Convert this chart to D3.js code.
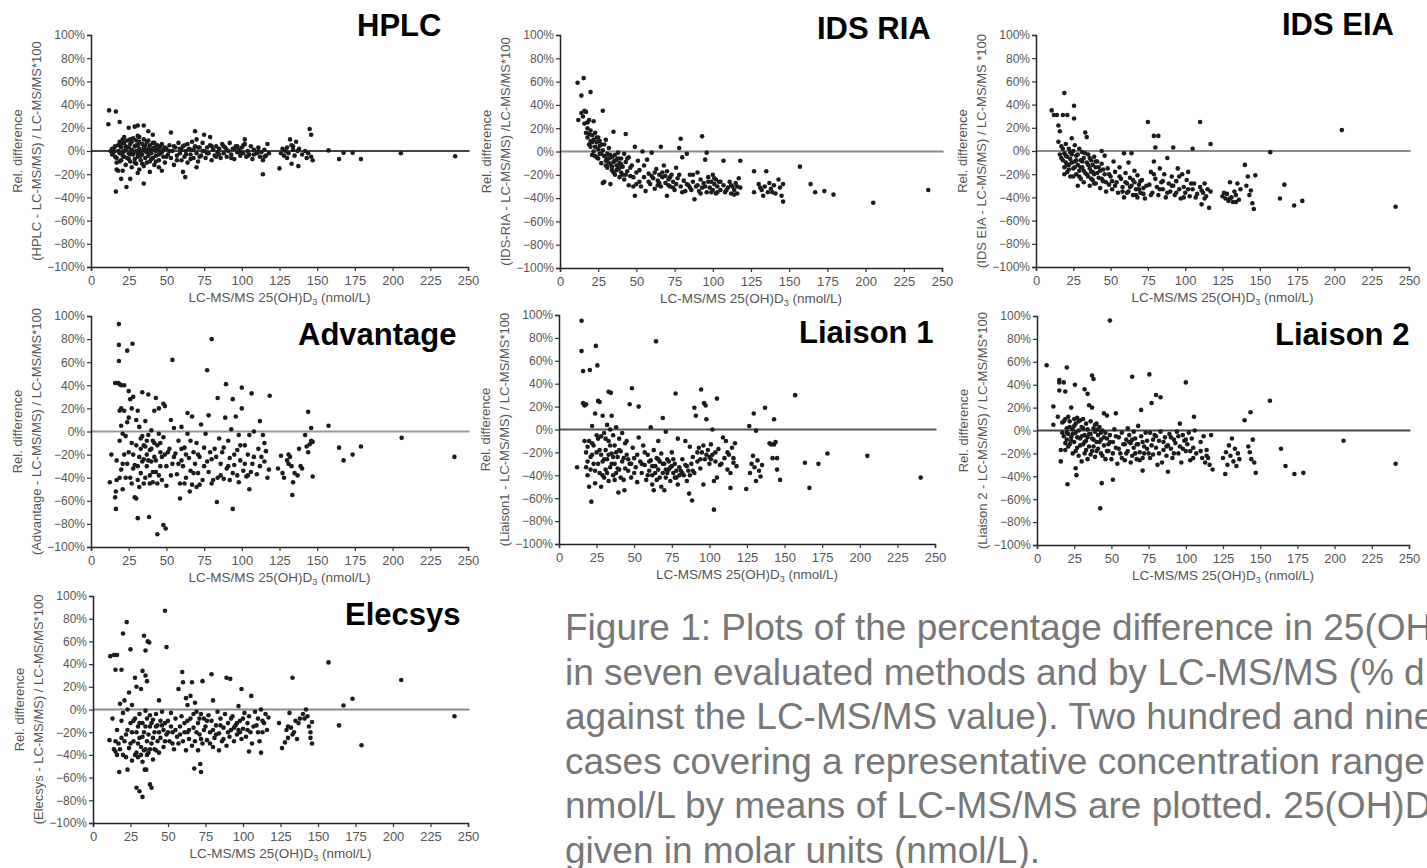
<!DOCTYPE html>
<html>
<head>
<meta charset="utf-8">
<script src="https://cdn.jsdelivr.net/npm/d3@7"></script>
<style>
  html, body { margin: 0; padding: 0; background: #fff; }
  svg { display: block; }
  text { font-family: "Liberation Sans", Arial, Helvetica, sans-serif; }
</style>
</head>
<body>
<svg id="chart" width="1427" height="868"></svg>
<script>
// ---------- DATA ----------
const xTicks = [0, 25, 50, 75, 100, 125, 150, 175, 200, 225, 250];
const yTicks = [-100, -80, -60, -40, -20, 0, 20, 40, 60, 80, 100];
const methodNames = ["HPLC", "IDS RIA", "IDS EIA", "Advantage", "Liaison 1", "Liaison 2", "Elecsys"];
const yLabelLines = [
  "(HPLC - LC-MS/MS) / LC-MS/MS*100",
  "(IDS-RIA - LC-MS/MS) /LC-MS/MS*100",
  "(IDS EIA - LC-MS/MS) / LC-MS/MS *100",
  "(Advantage - LC-MS/MS) / LC-MS/MS*100",
  "(Liaison1 - LC-MS/MS) / LC-MS/MS*100",
  "(Liaison 2 - LC-MS/MS) / LC-MS/MS*100",
  "(Elecsys - LC-MS/MS) / LC-MS/MS*100"
];
const captionLines = [
  "Figure 1: Plots of the percentage difference in 25(OH",
  "in seven evaluated methods and by LC-MS/MS (% d",
  "against the LC-MS/MS value). Two hundred and nine",
  "cases covering a representative concentration range",
  "nmol/L by means of LC-MS/MS are plotted. 25(OH)D",
  "given in molar units (nmol/L)."
];

const hplcData = [[11.5,23],[12,35],[16.5,34],[19,25],[16.5,-35],[23.5,-31],[35,-28],[26,-24],[20,-24],[18,-17],[17,-16],[21,-17],[31,-19],[39,-18],[47,-17],[45,-14],[62.5,-22.5],[61,-18],[70,-14],[114,-20],[125,-15],[145,19],[146,14],[137.5,-13],[133,-11],[157.5,0.5],[164.5,-7],[167.5,-1.5],[173.5,-1.5],[179,-7],[205.5,-2],[241.5,-4.5],[53,16],[69,17],[75,14],[79,12],[25,20],[29,21],[31,22],[35,22],[38,17],[41,14],[31,13],[22,12],[26,10],[14,2],
[13,0],[14,-3],[15,2],[16,-5],[17,-10],[18,5],[19,-2],[19,8],[20,-8],[20,3],[21,10],[21,-4],[22,0],[22,7],[23,-12],[23,4],[24,-6],[24,9],[25,-2],[25,3],[26,-9],[26,6],[27,1],[27,-14],[28,11],[28,-3],[29,-7],[29,4],[30,0],[30,9],[30,-11],[31,-5],[31,5],[32,2],[32,-16],[32,12],[33,-8],[33,0],[34,6],[34,-3],[35,-13],[35,3],[35,10],[36,-6],[36,0],[37,8],[37,-10],[38,2],[38,-4],[39,5],[39,-9],[40,1],[40,-2],[41,7],[41,-6],[42,-12],[42,3],[43,0],[43,-4],[44,5],[45,-8],[45,2],[46,-2],[47,6],[48,-5],[48,1],[49,-10],[50,2],[51,-3],[52,5],[53,-6],[54,0],[55,-12],[56,3],[57,-4],[58,7],[59,-2],[60,1],[60,-8],[61,4],[62,-5],[63,0],[64,6],[64,-10],[65,2],[66,-3],[67,8],[68,-6],[68,1],[69,4],[70,-2],[70,10],[71,-9],[72,3],[73,-4],[74,7],[75,0],[76,-6],[77,3],[78,-2],[79,5],[80,-8],[81,1],[82,-4],[83,4],[84,-1],[85,2],[86,-6],[87,6],[88,-2],[89,3],[90,-5],[91,0],[92,7],[93,-3],[94,2],[95,-7],[96,4],[97,-1],[98,1],[99,-4],[100,3],[101,-2],[102,10],[102,6],[103,-5],[104,0],[105,-3],[106,4],[107,-7],[108,1],[110,-2],[111,3],[112,-5],[113,-1],[114,-8],[115,1],[116,-4],[117,6],[118,-2],[126,-2],[127,2],[128,-4],[129,0],[130,3],[131,-2],[132,10],[133,5],[134,1],[135,-4],[136,8],[138,2],[140,-3],[142,0],[143,-6],[144,-2],[146,-5],[147,-8],
[15,-1],[16,4],[17,-6],[18,0],[19,-9],[20,6],[21,-1],[22,-5],[23,1],[24,3],[25,-7],[26,-3],[27,8],[28,-1],[29,-10],[30,5],[31,-2],[32,8],[33,-4],[34,-11],[35,1],[36,5],[37,-1],[38,9],[39,0],[40,-7],[41,2],[42,7],[43,-9],[44,1],[45,-3],[46,4],[47,-1],[49,3],[50,-5],[52,0],[55,4],[57,-8],[59,2],[62,5],[63,-3],[66,-7],[67,1],[71,3],[72,-5],[74,0],[77,-2],[80,4],[83,-5],[85,-3],[88,4],[90,1],[93,-6],[95,2],[97,4],[99,-1],[101,5],[104,-4],[108,-3],[111,0],[115,-5],[130,-6],[134,4],[137,0]];

const idsRiaData = [[11.5,59],[15.5,63],[14,48],[20,51],[12,27],[14,33],[15,30],[16,35],[16,24],[17,34],[17,16],[18,20],[18,12],[19,27],[19,6],[20,18],[20,9],[21,14],[21,-3],[22,26],[22,10],[23,4],[23,16],[24,8],[24,-5],[25,12],[25,2],[26,-2],[26,9],[27,6],[27,-10],[28,35],[28,-27],[28,1],[29,-4],[29,-26],[30,10],[30,-8],[31,-2],[31,-14],[32,-6],[32,3],[33,-11],[33,-28],[34,-5],[34,-16],[35,17],[35,-9],[36,-3],[36,-20],[37,-12],[37,-7],[38,-15],[38,-1],[39,-10],[39,-22],[40,-6],[40,-18],[41,-13],[42,-2],[42,-24],[43,15],[43,-9],[44,-17],[45,-5],[45,-29],[46,-21],[47,-12],[48,-30],[49,4],[49,-38],[50,-18],[51,-8],[52,-26],[53,-30],[54,0],[55,-22],[56,-34],[57,-7],[58,-19],[59,-28],[60,-1],[61,-23],[62,-32],[63,-15],[64,-25],[65,-20],[66,4],[66,-30],[67,-22],[68,-12],[69,-27],[70,-38],[70,-17],[71,-24],[72,-30],[73,-20],[74,-26],[75,-33],[76,-14],[77,-23],[78,3],[79,11],[79,-30],[80,-5],[81,-25],[82,-34],[83,-2],[84,-29],[85,-20],[86,-33],[87,-26],[88,-41],[89,-30],[90,-18],[91,-34],[92,-24],[93,13],[93,-31],[94,-27],[95,-7],[96,-1],[96,-35],[97,-22],[98,-31],[99,-26],[100,-33],[100,-20],[101,-28],[102,-36],[102,-24],[103,-30],[104,-26],[105,-33],[107,-8],[107,-29],[108,-35],[110,-31],[111,-26],[112,-36],[113,-30],[114,-33],[115,-27],[116,-36],[117,-23],[118,-8],[118,-31],[127,-17],[127,-35],[130,-28],[132,-33],[133,-38],[134,-30],[135,-17],[136,-35],[137,-27],[138,-32],[140,-29],[141,-36],[143,-24],[144,-31],[145,-38],[146,-43],[146,-28],[157,-13],[164,-28],[167,-35],[173,-34],[179,-37],[205,-44],[241,-33],
[18,25],[19,15],[20,4],[21,8],[22,0],[23,-4],[24,12],[25,-6],[26,5],[27,-2],[29,6],[30,-12],[31,-6],[32,-10],[33,-3],[34,-13],[35,-18],[36,-8],[37,-16],[38,-6],[39,-14],[40,-11],[41,-20],[43,-20],[44,-6],[46,-14],[48,-22],[50,-28],[52,-16],[55,-12],[58,-26],[60,-21],[62,-18],[64,-29],[65,-27],[67,-18],[69,-21],[71,-29],[72,-22],[74,-31],[76,-28],[78,-20],[80,-35],[83,-28],[85,-31],[87,-20],[90,-29],[92,-36],[95,-30],[97,-26],[99,-35],[101,-23],[103,-35],[105,-26],[109,-33],[112,-29],[114,-37],[116,-30],[131,-31],[139,-35]];

const idsEiaData = [[10.5,35],[12,31],[14,31],[15,22],[16,17],[18,31],[19,50],[21,31],[25.5,39],[25.5,28],[15,8],[16,-3],[17,4],[18,-8],[19,-14],[19,-2],[20,6],[20,-10],[21,-5],[21,-18],[22,2],[22,-12],[23,-7],[23,-22],[24,11],[24,-3],[25,-15],[25,0],[26,-9],[26,5],[27,-20],[27,-4],[28,-12],[28,-30],[29,2],[29,-17],[30,-8],[30,-24],[31,-1],[31,-14],[32,-27],[32,-6],[33,16],[33,-19],[34,12],[34,-10],[35,-3],[35,-22],[36,-15],[36,-30],[37,-8],[37,-18],[38,-25],[38,-12],[39,-5],[39,-20],[40,-28],[40,-14],[41,-9],[42,-23],[43,-32],[43,-17],[44,0],[44,-11],[45,-26],[46,-4],[46,-20],[47,-35],[48,-15],[49,-29],[50,-22],[51,-33],[52,-9],[53,-18],[54,-27],[55,-36],[56,-14],[57,-24],[58,-31],[59,-2],[59,-40],[60,-19],[61,-28],[62,-35],[62,-10],[63,-23],[64,-30],[64,-2],[65,-38],[66,-17],[66,-27],[67,-33],[68,-21],[68,-40],[69,-29],[70,-36],[71,-25],[72,-32],[73,-41],[75,25],[76,-29],[77,-18],[78,-36],[79,13],[79,-9],[80,3],[80,-24],[81,-31],[82,13],[82,-38],[83,-15],[84,-27],[85,-33],[86,-20],[87,-40],[88,-6],[89,-28],[90,-35],[91,-22],[92,3],[92,-30],[93,-38],[94,-26],[95,-15],[96,-33],[97,-41],[98,-20],[99,-31],[100,-36],[101,-25],[102,-18],[103,-39],[105,2],[105,-33],[106,-28],[108,-37],[110,25],[110,-31],[111,-46],[112,-36],[113,-28],[114,-39],[115,-33],[116,-49],[117,6],[117,-35],[125,-39],[127,-41],[128,-37],[129,-43],[130,-27],[131,-40],[132,-44],[133,-35],[134,-38],[135,-28],[136,-42],[137,-33],[140,-12],[141,-30],[142,-22],[143,-38],[144,-34],[145,-45],[146,-50],[147,-21],[157,-1],[163.5,-41],[166.5,-29],[173,-47],[178.5,-43],[205,18],[241,-48],
[17,-6],[18,2],[19,-20],[20,-4],[21,-12],[22,-16],[23,-1],[24,-10],[25,-22],[26,-14],[27,-8],[28,-3],[29,-22],[30,-14],[31,-9],[32,-17],[33,-2],[34,-20],[35,-12],[36,-6],[37,-24],[38,-18],[39,-28],[40,-9],[41,-19],[42,-14],[44,-24],[45,-16],[47,-27],[49,-20],[51,-26],[53,-30],[56,-22],[58,-35],[60,-27],[61,-36],[63,-31],[65,-25],[67,-38],[69,-33],[70,-26],[72,-37],[74,-30],[77,-38],[79,-20],[83,-33],[85,-26],[88,-36],[91,-30],[94,-36],[96,-22],[99,-40],[102,-33],[104,-28],[107,-40],[111,-34],[113,-41],[126,-36],[130,-41],[134,-44]];

const advantageData = [[18.5,93],[18.5,75],[24,70],[27.5,76],[18.5,61],[54,62],[77,53],[80,80],[89.5,41],[100,38],[106.5,33],[118.5,31],[84,29],[94,28],[16.5,-67],[16.5,-52],[16,-57],[31,-75],[38.5,-74],[44,-89],[48,-81],[49.5,-84],[59,-58],[65.5,-52],[83.5,-61],[94,-67],[105,-50],[133.5,-55],[147,-39],[144,17],[146,3],[157.5,5],[164.5,-14],[167.5,-25],[173.5,-20],[179,-13],[206,-5.5],[241,-22],[13.5,-20],[12.5,-44],
[16,42],[18,42],[19,41],[20,40],[22,40],[17,-42],[19,-40],[20,-33],[21,-50],[22,-20],[19,18],[20,5],[21,-2],[22,18],[23,-4],[24,-28],[25,35],[25,12],[26,-40],[27,20],[27,-10],[28,30],[28,-32],[29,-57],[29,-29],[30,-58],[30,-12],[31,18],[31,-42],[32,4],[32,-22],[33,-15],[33,-36],[34,34],[34,-4],[35,-24],[35,-45],[36,9],[36,-13],[37,-30],[37,-20],[38,32],[38,-3],[39,-38],[39,-16],[40,-26],[40,1],[41,-8],[41,-44],[42,18],[42,-22],[43,29],[43,-35],[44,-12],[44,-45],[45,20],[45,-2],[46,-30],[46,-18],[47,-42],[48,24],[48,-5],[49,-20],[49,22],[50,-47],[52,-15],[53,10],[54,-28],[55,3],[56,-19],[57,-37],[58,-8],[59,-45],[60,4],[60,-25],[61,-30],[62,-14],[63,-40],[64,16],[64,-2],[65,-23],[66,-34],[67,13],[67,-46],[68,-18],[69,-28],[70,-48],[70,-10],[71,-36],[72,-22],[73,6],[74,-42],[75,-14],[76,-2],[77,-26],[78,14],[78,-35],[80,-24],[81,-42],[82,-15],[84,-40],[85,-6],[86,-28],[87,-18],[88,-41],[89,12],[90,-32],[91,-8],[92,-23],[93,2],[94,-36],[95,-29],[96,13],[97,-16],[98,-44],[98,-3],[99,-25],[100,20],[101,-34],[102,-12],[103,-39],[104,-20],[105,-3],[106,-35],[107,-28],[108,0],[110,-37],[111,-15],[112,9],[113,-22],[114,-3],[115,-10],[116,-17],[117,-40],[118,-33],[124,-32],[126,-21],[128,-40],[130,-25],[131,-20],[132,-22],[133,-30],[134,-44],[135,-36],[137,-38],[138,-15],[140,-32],[142,-3],[143,-13],[145,-11],[146,-8],[147,-9],
[17,-25],[19,-8],[20,20],[21,-28],[23,-40],[24,8],[25,-18],[26,28],[27,-45],[28,-20],[30,10],[31,-30],[32,-48],[33,-6],[34,-26],[35,-12],[36,-40],[37,-8],[38,-25],[39,-45],[40,-15],[41,-35],[42,-10],[43,-25],[45,-38],[46,-10],[47,-22],[50,-30],[51,-18],[53,-38],[55,-22],[58,-28],[60,-15],[62,-45],[63,-20],[66,-8],[68,-36],[71,-20],[72,-46],[75,-30],[79,-18],[80,-45],[83,-22],[86,-38],[88,-14],[91,-30],[92,-42],[95,-20],[97,-38],[99,-12],[102,-28],[104,-38],[108,-22],[112,-30],[115,-26],[127,-36],[131,-28],[139,-30],[144,-18]];

const liaison1Data = [[15,95],[15,68.5],[16,51],[20.5,52],[24.5,73],[25.5,56],[64.5,77],[48.5,36],[33,33],[34.5,32],[77.5,31.5],[94.5,35],[96.5,23],[97.5,21],[105,27],[157,30],[137,19],[129.5,14],[143,9],[126.5,3],[88.5,-62],[86.5,-56],[103,-70],[21.5,-63],[39.5,-55],[43.5,-53],[124.5,-52],[114,-51],[147,-44],[166.5,-51],[163.5,-29],[172.5,-30],[178.5,-21],[205,-23],[240.5,-42],[12,-33],
[16,23],[17,21],[18,22],[17,-10],[18,-33],[19,-40],[19,-15],[20,-50],[21,-24],[22,3],[22,-12],[23,-30],[24,14],[24,-47],[25,-20],[26,25],[26,-8],[27,24],[27,-38],[28,-22],[28,-50],[29,12],[29,-28],[30,-3],[30,-42],[31,-18],[31,-35],[32,4],[32,-26],[33,-10],[33,-45],[34,0],[34,-33],[35,12],[35,-21],[36,-5],[36,-40],[37,-14],[37,-30],[38,2],[38,-38],[39,-24],[40,-8],[40,-35],[41,-19],[42,-3],[42,-28],[43,-44],[44,-12],[45,-22],[46,-36],[47,22],[47,-30],[48,-42],[49,-16],[50,-25],[51,-33],[52,-46],[53,-7],[53,20],[54,-28],[55,-38],[56,-14],[57,-31],[58,-44],[59,-22],[60,-36],[61,2],[61,-27],[62,-48],[62,-40],[63,-53],[63,-18],[64,-32],[65,-25],[65,-44],[66,-10],[66,-35],[67,-28],[68,-50],[68,-21],[69,10],[69,-38],[70,-30],[70,-53],[71,-2],[71,-42],[72,-26],[73,-35],[74,-45],[75,-20],[75,-32],[76,-38],[77,-30],[78,-42],[79,-48],[79,-8],[80,-33],[81,-36],[82,-26],[83,-40],[84,-10],[84,-31],[85,-45],[86,-36],[87,-15],[88,-30],[89,-24],[90,19],[90,-38],[91,12],[92,-28],[93,-16],[94,-34],[95,-20],[96,-48],[96,-14],[97,-26],[98,9],[99,-18],[100,-30],[100,-24],[101,-13],[102,-22],[102,0],[103,-45],[104,-28],[105,-42],[106,-17],[107,-31],[109,-7],[110,-25],[111,-10],[112,-35],[113,-22],[114,-38],[115,-16],[116,-29],[117,-12],[118,-32],[127,-38],[128,-30],[129,-23],[130,-33],[131,-45],[131,-1],[132,-27],[133,-36],[134,-41],[135,-31],[140,-12],[141,-13],[142,-25],[143,-13],[144,-11],[145,-35],[145,-25],
[18,-20],[19,-28],[20,-10],[21,-35],[22,-22],[23,-14],[24,-36],[25,-5],[26,-30],[27,-18],[28,-6],[29,-40],[30,-26],[31,-8],[32,-38],[33,-22],[34,-14],[35,-30],[36,-24],[37,-44],[38,-20],[39,-34],[40,-18],[41,-42],[43,-25],[44,-34],[45,-10],[46,-26],[48,-30],[50,-38],[52,-22],[55,-30],[57,-20],[59,-40],[60,-28],[62,-32],[64,-38],[66,-26],[67,-42],[69,-30],[71,-35],[72,-38],[73,-28],[74,-33],[76,-26],[77,-42],[78,-36],[80,-40],[82,-38],[85,-32],[87,-40],[89,-36],[92,-20],[94,-26],[98,-22],[101,-26],[104,-20],[108,-30],[112,-20],[116,-25]];

const liaison2Data = [[49,96],[6.5,57],[20,55],[25.5,40],[37,48],[38,45],[32,36],[34,32],[15,44],[15,42],[15,35],[18,42],[19,34],[11,21],[11,5],[64,47],[75.5,49],[77,24],[80,31],[83,29],[100,42],[70,18],[53,15],[45,15],[47,13],[156.5,26],[143.5,16],[139.5,9],[105.5,12],[42.5,-68],[20.5,-47],[43.5,-46],[51,-43],[26.5,-39],[26,-33],[71,-35],[88,-36],[126.5,-38],[147,-37],[164,-16],[167,-31],[173,-38],[179,-37],[206,-9],[241,-29],[16,-27],
[14,12],[16,-17],[17,7],[18,-5],[19,-17],[19,10],[20,-8],[20,2],[21,-3],[21,12],[22,-12],[22,8],[23,20],[23,-6],[24,1],[24,-20],[25,10],[25,-10],[26,-2],[26,6],[27,-15],[27,11],[28,0],[28,-22],[29,-7],[29,9],[30,3],[30,-27],[31,-12],[31,10],[32,-4],[32,-20],[33,6],[33,-9],[34,-25],[34,1],[35,22],[35,-14],[36,-3],[36,8],[37,-18],[37,20],[38,-8],[38,2],[39,-23],[39,-1],[40,-10],[40,6],[41,-16],[41,-4],[42,3],[43,-20],[43,-8],[44,0],[45,-13],[46,-25],[46,-2],[47,-7],[48,-18],[48,-12],[49,-4],[50,-25],[51,-10],[52,1],[53,-15],[54,-29],[55,-6],[56,-20],[57,-2],[58,-12],[59,-26],[60,-8],[61,2],[61,-18],[62,-4],[63,-28],[63,-11],[64,-22],[65,-1],[65,-15],[66,-7],[67,-25],[68,-12],[68,4],[69,-19],[70,-5],[71,-24],[72,-14],[73,-2],[74,-9],[75,-20],[76,-2],[77,-13],[78,-21],[79,-4],[80,-15],[81,-30],[82,-9],[83,-1],[84,-28],[85,-17],[86,-6],[87,-22],[88,-13],[89,-3],[90,-16],[91,-24],[92,-8],[93,-11],[94,-1],[95,-20],[96,6],[96,-14],[97,-28],[98,-4],[99,-9],[100,-18],[101,-12],[102,-2],[103,-26],[104,-7],[105,-15],[106,0],[107,-20],[110,-10],[111,-24],[112,-5],[113,-28],[114,-17],[115,-24],[116,-30],[117,-4],[118,-34],[125,-24],[127,-19],[128,-30],[129,-13],[130,-22],[131,-7],[132,-27],[133,-16],[134,-31],[135,-20],[136,-25],[142,-14],[143,-19],[144,-25],[145,-8],[146,-28],
[17,-2],[18,8],[19,-11],[20,-2],[21,-14],[22,3],[23,-9],[24,-3],[25,4],[26,-18],[27,-6],[28,8],[29,-13],[30,-5],[31,2],[32,-10],[33,-17],[34,-6],[35,-3],[36,-21],[37,-7],[38,-14],[39,5],[40,-18],[41,1],[42,-10],[43,-2],[44,-22],[45,-6],[47,-18],[49,-10],[51,-20],[53,-5],[55,-16],[57,-24],[59,-12],[60,-20],[62,-10],[64,-8],[66,-20],[67,-12],[69,-26],[71,-10],[72,-20],[74,-16],[76,-24],[78,-8],[80,-5],[82,-20],[85,-10],[87,-14],[90,-6],[92,-20],[95,-5],[98,-16],[100,-8],[103,-18],[105,-24],[110,-18],[114,-22]];

const elecsysData = [[48,87],[22.5,77],[20,67],[25,53],[34,65],[36.5,60],[37.5,59],[35,52],[49,55],[11.5,47],[14,48],[16,48],[15,35],[19,35],[33,34],[35,30],[36,25],[59.5,33],[79,31],[89,28],[91.5,27],[73,25],[99,18],[105.5,12],[133,28],[157,41.5],[205.5,26],[241,-6],[167,3.5],[173,9.5],[164,-14],[179,-31.5],[17.5,-55],[23,-53],[29,-69],[31,-72],[33,-77],[34.5,-53],[35.5,-53],[38,-66],[39,-69],[67.5,-52],[71.5,-48],[72,-55],[104,-37],[112,-38],[146,-30],[11,-27],
[13,-8],[14,-35],[15,-37],[16,-18],[17,-30],[18,5],[19,-25],[20,-3],[20,-40],[21,8],[22,-22],[23,0],[24,15],[24,-34],[25,-12],[26,4],[26,-45],[27,-28],[28,28],[28,-8],[29,-38],[29,20],[30,-15],[30,-42],[31,-4],[31,-25],[32,18],[32,-33],[33,-12],[33,-46],[34,-20],[35,-1],[35,-35],[36,-28],[36,-8],[37,-38],[38,-15],[38,-5],[39,-30],[40,-9],[40,-44],[41,-20],[42,-36],[42,-4],[43,-14],[44,-38],[44,8],[45,-25],[45,-10],[46,-2],[47,-33],[47,-18],[48,-12],[49,-22],[50,-10],[51,-28],[52,-3],[53,-20],[54,-35],[55,-8],[56,-24],[57,18],[57,-30],[58,-15],[59,-6],[60,24],[60,-28],[61,-12],[62,10],[62,-36],[63,-20],[63,4],[64,-26],[65,12],[65,-8],[66,-32],[66,24],[67,-16],[68,6],[68,-28],[69,-2],[70,-36],[70,-12],[71,-22],[72,-4],[73,-30],[74,-8],[75,-15],[76,-27],[77,-5],[78,-20],[79,-10],[80,-33],[80,8],[81,-25],[82,-14],[83,-2],[84,-36],[84,-21],[85,-8],[86,-28],[87,-16],[88,-4],[89,-32],[90,-12],[91,-24],[92,-18],[93,-6],[94,-28],[95,-14],[96,-22],[97,3],[97,-18],[98,-10],[99,-26],[100,-17],[101,-3],[102,-24],[103,-12],[104,-6],[105,-20],[106,-30],[108,-2],[109,-14],[110,-8],[111,-28],[112,0],[113,-20],[114,-12],[115,-4],[116,-18],[117,-7],[124,-12],[126,-34],[128,-29],[129,-18],[130,-25],[131,-3],[132,-16],[133,-22],[134,-20],[135,-10],[136,-26],[137,-12],[140,-4],[141,-8],[142,0],[143,-6],[144,-15],[145,-20],[145,-25],[146,-11],
[15,-28],[16,-40],[18,-35],[19,-10],[21,-28],[22,-42],[23,-18],[25,-30],[26,-20],[27,-10],[28,-40],[29,-20],[30,-30],[31,-12],[32,-40],[33,-24],[34,-36],[35,-15],[36,-40],[37,-22],[38,-35],[39,-12],[40,-25],[41,-35],[42,-15],[43,-28],[44,-20],[46,-14],[48,-28],[50,-20],[52,-15],[53,-30],[55,-18],[58,-22],[61,-20],[63,-10],[64,-18],[67,-4],[69,-20],[71,-8],[72,-26],[74,-18],[76,-10],[78,-30],[80,-18],[82,-22],[85,-14],[87,-26],[90,-20],[92,-8],[94,-16],[96,-12],[98,-20],[100,-8],[103,-18],[107,-15],[110,-20],[113,-10],[130,-15],[138,-8]];

const seriesData = [hplcData, idsRiaData, idsEiaData, advantageData, liaison1Data, liaison2Data, elecsysData];

// ---------- LAYOUT (positions / styles only) ----------
const layout = [
  {x0: 91,   x1: 468,  y0: 35,  y1: 267, tx: 357,  ty: 36,  zero: "#444"},
  {x0: 560,  x1: 942,  y0: 35,  y1: 268, tx: 817,  ty: 39,  zero: "#8a8a8a"},
  {x0: 1036, x1: 1409, y0: 35,  y1: 267, tx: 1282, ty: 35,  zero: "#8a8a8a"},
  {x0: 91,   x1: 468,  y0: 316, y1: 547, tx: 298,  ty: 345, zero: "#9a9a9a"},
  {x0: 559,  x1: 935,  y0: 315, y1: 544, tx: 799,  ty: 343, zero: "#555"},
  {x0: 1037, x1: 1409, y0: 316, y1: 545, tx: 1275, ty: 345, zero: "#444"},
  {x0: 93,   x1: 468,  y0: 596, y1: 823, tx: 345,  ty: 625, zero: "#8a8a8a"}
];

const svg = d3.select("#chart");
const fmtPct = d => (d < 0 ? "\u2212" + Math.abs(d) : d) + "%";

seriesData.forEach((data, i) => {
  const L = layout[i];
  const x = d3.scaleLinear().domain([0, 250]).range([L.x0, L.x1]);
  const y = d3.scaleLinear().domain([-100, 100]).range([L.y1, L.y0]);
  const g = svg.append("g");

  // zero reference line
  g.append("line")
    .attr("x1", x(0)).attr("x2", x(251))
    .attr("y1", y(0)).attr("y2", y(0))
    .attr("stroke", L.zero).attr("stroke-width", 1.8);

  // y axis
  const yAxis = g.append("g").attr("transform", `translate(${x(0)},0)`)
    .call(d3.axisLeft(y).tickValues(yTicks).tickFormat(fmtPct).tickSize(4).tickPadding(2));
  yAxis.select(".domain").attr("stroke", "#222").attr("stroke-width", 1.5);
  yAxis.selectAll(".tick line").attr("stroke", "#333").attr("stroke-width", 1.2);
  yAxis.selectAll(".tick text").attr("fill", "#555").style("font-size", "12px")
    .style("font-family", "'Liberation Sans', Arial, sans-serif");

  // x axis
  const xAxis = g.append("g").attr("transform", `translate(0,${y(-100)})`)
    .call(d3.axisBottom(x).tickValues(xTicks).tickSize(4).tickPadding(5));
  xAxis.select(".domain").attr("stroke", "#222").attr("stroke-width", 1.5);
  xAxis.selectAll(".tick line").attr("stroke", "#333").attr("stroke-width", 1.2);
  xAxis.selectAll(".tick text").attr("fill", "#555").style("font-size", "13px")
    .style("font-family", "'Liberation Sans', Arial, sans-serif");

  // x axis label with subscript
  const xl = g.append("text")
    .attr("x", (L.x0 + L.x1) / 2).attr("y", y(-100) + 35)
    .attr("text-anchor", "middle").attr("fill", "#555").style("font-size", "13.5px");
  xl.append("tspan").text("LC-MS/MS 25(OH)D");
  xl.append("tspan").attr("dy", 3).style("font-size", "9px").text("3");
  xl.append("tspan").attr("dy", -3).text(" (nmol/L)");

  // y axis label (two lines, rotated)
  const cy = (L.y0 + L.y1) / 2;
  g.append("text")
    .attr("transform", `translate(${L.x0 - 69},${cy}) rotate(-90)`)
    .attr("text-anchor", "middle").attr("fill", "#555").style("font-size", "13px")
    .text("Rel. difference");
  g.append("text")
    .attr("transform", `translate(${L.x0 - 50},${cy}) rotate(-90)`)
    .attr("text-anchor", "middle").attr("fill", "#555").style("font-size", "13px")
    .text(yLabelLines[i]);

  // points
  g.append("g").selectAll("circle").data(data).join("circle")
    .attr("cx", d => x(d[0])).attr("cy", d => y(d[1]))
    .attr("r", 2.3).attr("fill", "#1c1c1c");

  // panel title
  g.append("text")
    .attr("x", L.tx).attr("y", L.ty)
    .attr("fill", "#000").style("font-size", "31px").style("font-weight", "bold")
    .text(methodNames[i]);
});

// caption
svg.append("g").selectAll("text").data(captionLines).join("text")
  .attr("x", 565).attr("y", (d, i) => 640 + i * 44.6)
  .attr("fill", "#777").style("font-size", "37px")
  .text(d => d);
</script>
</body>
</html>
